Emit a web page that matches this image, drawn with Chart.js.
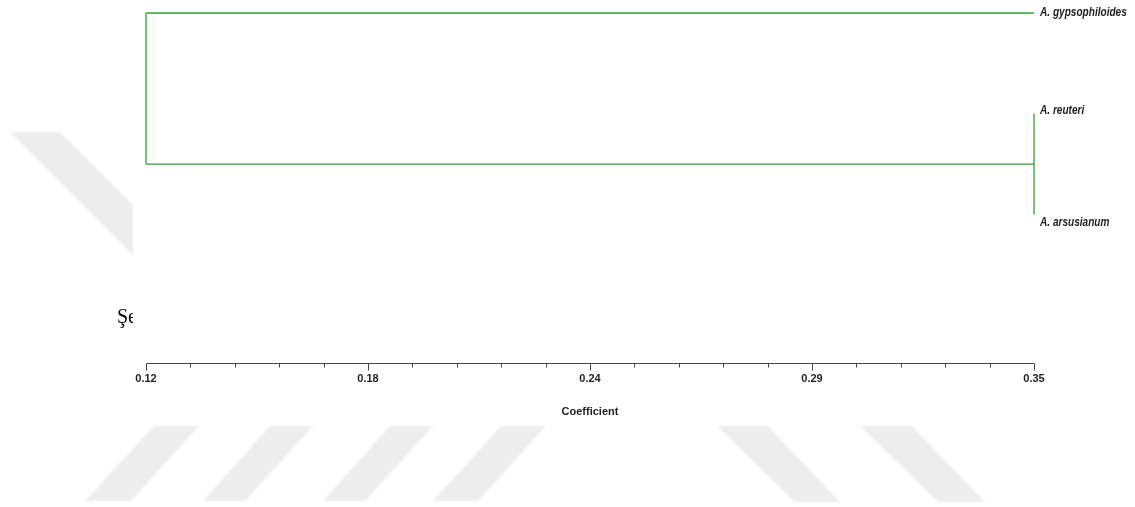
<!DOCTYPE html>
<html>
<head>
<meta charset="utf-8">
<script src="https://cdn.jsdelivr.net/npm/chart.js@4.4.1/dist/chart.umd.min.js"></script>
<style>
  html, body { margin: 0; padding: 0; background: #fff; }
  #wrap { position: relative; width: 1135px; height: 507px; }
</style>
</head>
<body>
<div id="wrap"><canvas id="c"></canvas></div>
<script>
// Leaves of the tree, top to bottom
const taxa = ['A. gypsophiloides', 'A. reuteri', 'A. arsusianum'];
// Row of each leaf on the (hidden) vertical scale
const leafRows = [3, 2, 1];
// Coefficient at which the leaves sit
const leafLevel = 0.35;
// Agglomeration steps; an index >= taxa.length refers to an earlier cluster
const mergeLeft = [1, 0];
const mergeRight = [2, 3];
const mergeLevel = [0.35, 0.12];
// Coefficient axis
const axisMin = 0.12;
const axisMax = 0.35;
const tickLabels = ['0.12', '0.18', '0.24', '0.29', '0.35'];
const minorPerMajor = 5;
const axisTitle = 'Coefficient';
// Caption fragment at the page margin
const captionText = 'Şekil';

const GREEN = '#2fa02f';
const INK = '#1e1e1e';
const SANS = '"Liberation Sans", Arial, sans-serif';

// Build the dendrogram segments from the merge table
const nodes = taxa.map((t, i) => ({ x: leafLevel, y: leafRows[i] }));
const segments = [];
mergeLevel.forEach((h, k) => {
  const a = nodes[mergeLeft[k]], b = nodes[mergeRight[k]];
  segments.push([{ x: a.x, y: a.y }, { x: h, y: a.y }]);
  segments.push([{ x: b.x, y: b.y }, { x: h, y: b.y }]);
  segments.push([{ x: h, y: a.y }, { x: h, y: b.y }]);
  nodes.push({ x: h, y: (a.y + b.y) / 2 });
});

const datasets = segments.map(seg => ({
  data: seg,
  showLine: true,
  clip: false,
  pointRadius: 0,
  pointHoverRadius: 0,
  borderColor: GREEN,
  borderWidth: 1.3,
  fill: false
}));

// Page background: faint diagonal bands and the margin caption
const backdrop = {
  id: 'backdrop',
  beforeDraw(chart) {
    const ctx = chart.ctx;
    ctx.save();
    ctx.fillStyle = '#fff';
    ctx.fillRect(0, 0, chart.width, chart.height);
    const bands = [
      [[10,132],[60,132],[140,212],[140,262]],
      [[154,426],[199,426],[131,501],[85,501]],
      [[270,426],[313,426],[245,501],[203,501]],
      [[390,426],[433,426],[365,501],[323,501]],
      [[501,426],[546,426],[478,501],[433,501]],
      [[717,426],[768,426],[840,502],[795,502]],
      [[860,426],[912,426],[985,502],[938,502]]
    ];
    ctx.filter = 'blur(1px)';
    ctx.fillStyle = '#ededed';
    bands.forEach(p => {
      ctx.beginPath();
      ctx.moveTo(p[0][0], p[0][1]);
      for (let i = 1; i < p.length; i++) ctx.lineTo(p[i][0], p[i][1]);
      ctx.closePath();
      ctx.fill();
    });
    ctx.filter = 'none';
    ctx.fillStyle = '#000';
    ctx.font = '20px "Liberation Serif", serif';
    ctx.textBaseline = 'alphabetic';
    ctx.fillText(captionText, 117, 323);
    // figure panel covering the page behind it
    ctx.fillStyle = '#fff';
    ctx.fillRect(133, 0, chart.width - 133, 423);
    ctx.restore();
  }
};

// Coefficient axis line with major/minor ticks, and leaf names
const treeAxis = {
  id: 'treeAxis',
  afterDatasetsDraw(chart) {
    const ctx = chart.ctx;
    const xs = chart.scales.x, ys = chart.scales.y;
    const yAxis = Math.round(chart.chartArea.bottom) + 0.5;
    ctx.save();
    ctx.strokeStyle = '#444';
    ctx.lineWidth = 1;
    ctx.beginPath();
    ctx.moveTo(Math.round(xs.getPixelForValue(axisMin)) + 0.5, yAxis);
    ctx.lineTo(Math.round(xs.getPixelForValue(axisMax)) + 0.5, yAxis);
    const n = (tickLabels.length - 1) * minorPerMajor;
    for (let i = 0; i <= n; i++) {
      const v = axisMin + (axisMax - axisMin) * i / n;
      const px = Math.round(xs.getPixelForValue(v)) + 0.5;
      const len = i % minorPerMajor === 0 ? 7 : 4;
      ctx.moveTo(px, yAxis);
      ctx.lineTo(px, yAxis + len);
    }
    ctx.stroke();

    ctx.fillStyle = INK;
    ctx.font = 'italic bold 12px ' + SANS;
    ctx.textBaseline = 'middle';
    ctx.textAlign = 'left';
    const labelShift = [0, -3, 8];
    const squeeze = 0.84;
    taxa.forEach((t, i) => {
      const px = xs.getPixelForValue(leafLevel) + 6;
      const py = ys.getPixelForValue(leafRows[i]) + labelShift[i];
      ctx.save();
      ctx.translate(px, py);
      ctx.scale(squeeze, 1);
      ctx.fillText(t, 0, 0);
      ctx.restore();
    });
    ctx.restore();
  }
};

new Chart(document.getElementById('c'), {
  type: 'scatter',
  data: { datasets },
  options: {
    responsive: true,
    maintainAspectRatio: false,
    animation: false,
    events: [],
    layout: { padding: { left: 146, right: 101, top: 13, bottom: 88 } },
    plugins: { legend: { display: false }, tooltip: { enabled: false } },
    scales: {
      x: {
        type: 'linear',
        min: axisMin,
        max: axisMax,
        grid: { display: false },
        border: { display: false },
        afterBuildTicks(scale) {
          const n = (tickLabels.length - 1) * minorPerMajor;
          const ticks = [];
          for (let i = 0; i <= n; i++) ticks.push({ value: axisMin + (axisMax - axisMin) * i / n });
          scale.ticks = ticks;
        },
        ticks: {
          autoSkip: false,
          maxRotation: 0,
          minRotation: 0,
          padding: 2,
          color: INK,
          font: { family: SANS, size: 11, weight: 'bold' },
          callback(v, i) {
            return i % minorPerMajor === 0 ? tickLabels[i / minorPerMajor] : '';
          }
        },
        title: {
          display: true,
          text: axisTitle,
          color: INK,
          font: { family: SANS, size: 11, weight: 'bold' },
          padding: { top: 18, bottom: 0 }
        }
      },
      y: {
        type: 'linear',
        display: false,
        min: -0.47,
        max: 3
      }
    }
  },
  plugins: [backdrop, treeAxis]
});
</script>
</body>
</html>
